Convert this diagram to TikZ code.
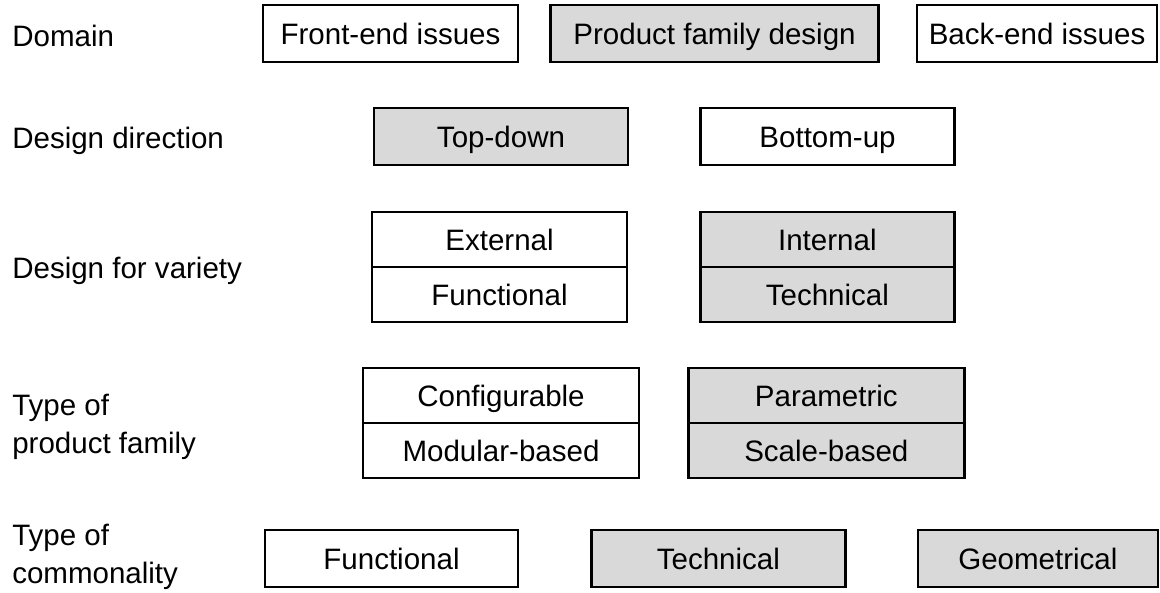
\documentclass[tikz,border=0pt]{standalone}
\usepackage{fontspec}
\setmainfont{Liberation Sans}
\usepackage{xcolor}
\usepackage{tikz}
\usetikzlibrary{positioning}
\tikzset{
    choice/.style={
        rectangle,
        draw=black,
        line width=1.8pt,
        inner sep=0pt,
        text height=15pt,
        text depth=0pt,
        minimum height=1.425cm,
        fill=white,
        font=\fontsize{21}{27}\selectfont
    },
    picked/.style={
        choice,
        fill=gray!30
    },
    cell/.style={
        minimum height=1.375cm
    },
    rowlabel/.style={
        inner sep=0pt,
        align=left,
        font=\fontsize{21}{27}\selectfont
    }
}
\begin{document}
\begin{tikzpicture}

\useasboundingbox (0,0) rectangle (29,-14.8);

% Row labels
\node[rowlabel, anchor=base west] (dom) at (0.3,-1.15) {Domain};
\node[rowlabel, anchor=base west] (dir) at (0.3,-3.7) {Design direction};
\node[rowlabel, anchor=base west] (var) at (0.3,-6.95) {Design for variety};
\node[rowlabel, anchor=west] (typ) at (0.3,-10.66) {Type of\\product family};
\node[rowlabel, anchor=west] (com) at (0.3,-13.91) {Type of\\commonality};

% Domain
\node[choice, minimum width=6.375cm] (fe) at (9.7625,-0.8375) {Front-end issues};
\node[picked, minimum width=8.2cm, right=0.75cm of fe] (pfd) {Product family design};
\node[choice, minimum width=6cm, right=0.9cm of pfd] (be) {Back-end issues};

% Design direction
\node[picked, minimum width=6.35cm] (td) at (12.525,-3.4125) {Top-down};
\node[choice, minimum width=6.35cm, right=1.75cm of td] (bu) {Bottom-up};

% Design for variety (split boxes share one rule)
\node[choice, cell, minimum width=6.375cm] (ext) at (12.4875,-5.9875) {External};
\node[choice, cell, minimum width=6.375cm, below=-1.8pt of ext] (fun) {Functional};
\node[picked, cell, minimum width=6.35cm, right=1.77cm of ext] (int) {Internal};
\node[picked, cell, minimum width=6.35cm, below=-1.8pt of int] (tec) {Technical};

% Type of product family
\node[choice, cell, minimum width=6.9cm] (cfg) at (12.525,-9.8875) {Configurable};
\node[choice, cell, minimum width=6.9cm, below=-1.8pt of cfg] (mod) {Modular-based};
\node[picked, cell, minimum width=6.9cm, right=1.17cm of cfg] (par) {Parametric};
\node[picked, cell, minimum width=6.9cm, below=-1.8pt of par] (scl) {Scale-based};

% Type of commonality
\node[choice, minimum width=6.325cm] (fcom) at (9.7875,-13.9625) {Functional};
\node[picked, minimum width=6.35cm, right=1.77cm of fcom] (tcom) {Technical};
\node[picked, minimum width=6cm, right=1.75cm of tcom] (gcom) {Geometrical};

\end{tikzpicture}
\end{document}
